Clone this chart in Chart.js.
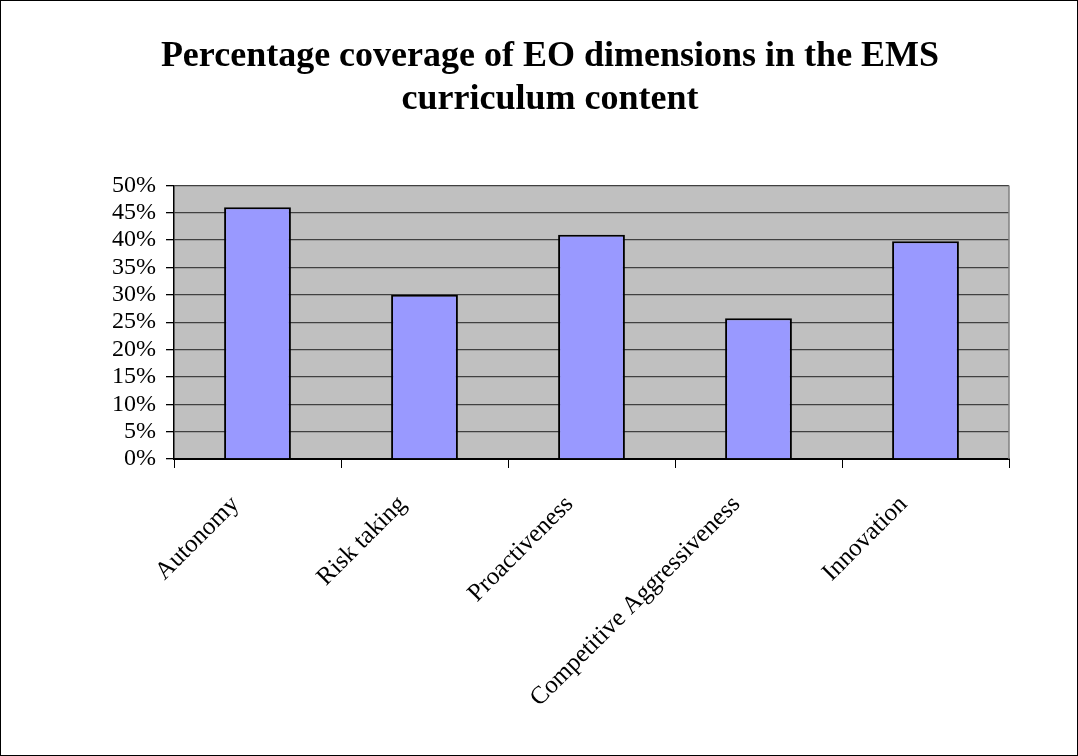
<!DOCTYPE html>
<html>
<head>
<meta charset="utf-8">
<script src="https://cdn.jsdelivr.net/npm/chart.js@4.4.1/dist/chart.umd.min.js"></script>
<style>
  body { margin: 0; background: #fff; }
  #wrap { width: 1076px; height: 754px; border: 1px solid #000; position: relative; }
</style>
</head>
<body>
<div id="wrap"><canvas id="eoChart" width="1076" height="754"></canvas></div>
<script>
// data (percent)
var dimensions = ["Autonomy", "Risk taking", "Proactiveness", "Competitive Aggressiveness", "Innovation"];
var coverage = [46, 30, 41, 25.7, 39.8];
var titleLines = ["Percentage coverage of EO dimensions in the EMS", "curriculum content"];

var serif = "'Liberation Serif', 'Times New Roman', serif";

// grey plot background + grey right edge, like the old Excel look
var plotBg = {
  id: "plotBg",
  beforeDraw: function (chart) {
    var a = chart.chartArea, ctx = chart.ctx;
    ctx.save();
    ctx.fillStyle = "#c0c0c0";
    ctx.fillRect(a.left, a.top, a.right - a.left, a.bottom - a.top);
    ctx.restore();
  },
  afterDatasetsDraw: function (chart) {
    var a = chart.chartArea, ctx = chart.ctx;
    ctx.save();
    ctx.strokeStyle = "#808080";
    ctx.lineWidth = 1.5;
    ctx.beginPath();
    ctx.moveTo(a.right, a.top);
    ctx.lineTo(a.right, a.bottom);
    ctx.stroke();
    ctx.restore();
  }
};

new Chart("eoChart", {
  type: "bar",
  data: {
    labels: dimensions,
    datasets: [{
      data: coverage,
      backgroundColor: "#9999ff",
      borderColor: "#000000",
      borderWidth: 2,
      categoryPercentage: 0.8,
      barPercentage: 0.5
    }]
  },
  options: {
    responsive: false,
    animation: false,
    layout: { padding: { left: 90, right: 68, top: 0, bottom: 20 } },
    plugins: {
      legend: { display: false },
      tooltip: { enabled: false },
      title: {
        display: true,
        text: titleLines,
        color: "#000",
        font: { family: serif, size: 36, weight: "bold", lineHeight: 1.2 },
        padding: { top: 34, bottom: 64 }
      }
    },
    scales: {
      x: {
        grid: { display: true, offset: true, drawOnChartArea: false, tickLength: 9, color: "#000", tickColor: "#000" },
        border: { display: true, color: "#000", width: 2 },
        ticks: {
          color: "#000",
          font: { family: serif, size: 25 },
          minRotation: 45,
          maxRotation: 45,
          autoSkip: false,
          labelOffset: -22,
          padding: 22
        }
      },
      y: {
        min: 0,
        max: 50,
        afterFit: function (scale) { scale.width = 83; },
        grid: { color: "#404040", lineWidth: 1.3, tickLength: 8, tickColor: "#000" },
        border: { display: true, color: "#000", width: 1.5 },
        ticks: {
          stepSize: 5,
          autoSkip: false,
          color: "#000",
          font: { family: serif, size: 24 },
          padding: 10,
          callback: function (v) { return v + "%"; }
        }
      }
    }
  },
  plugins: [plotBg]
});
</script>
</body>
</html>
